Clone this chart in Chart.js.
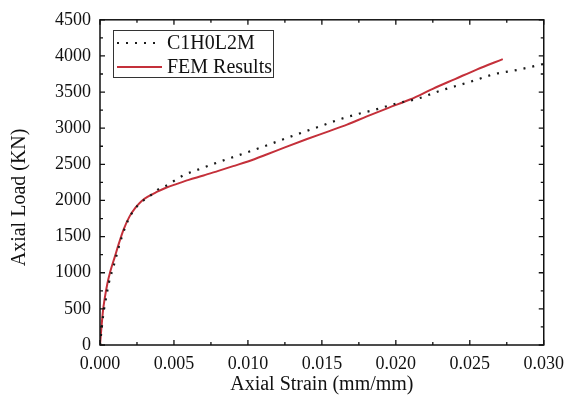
<!DOCTYPE html>
<html>
<head>
<meta charset="utf-8">
<script src="https://cdn.jsdelivr.net/npm/chart.js@4"></script>
<style>
  html, body { margin: 0; padding: 0; background: #fff; }
  #wrap { width: 572px; height: 406px; }
</style>
</head>
<body>
<div id="wrap"><canvas id="c" width="572" height="406"></canvas></div>
<script>
// ---- data ----
const expLabel = 'C1H0L2M';
const expStrain = [0, 0.0001, 0.0002, 0.0004, 0.0006, 0.00095, 0.00128, 0.00146, 0.0019, 0.0023, 0.0028, 0.0034, 0.0039, 0.0046, 0.0052, 0.0057, 0.0064, 0.0070, 0.0080, 0.0090, 0.0100, 0.0113, 0.0125, 0.0137, 0.0150, 0.0162, 0.0175, 0.0185, 0.0200, 0.0215, 0.0230, 0.0250, 0.0267, 0.0283, 0.0300];
const expLoad   = [0, 200, 390, 640, 860, 1114, 1364, 1486, 1727, 1870, 1977, 2068, 2150, 2218, 2296, 2355, 2410, 2455, 2530, 2600, 2670, 2764, 2855, 2943, 3035, 3123, 3200, 3250, 3340, 3410, 3518, 3640, 3750, 3810, 3890];

const femLabel = 'FEM Results';
const femStrain = [0, 0.0001, 0.0002, 0.0003, 0.0005, 0.0007, 0.0010, 0.0013, 0.0016, 0.0020, 0.0024, 0.0028, 0.0033, 0.0038, 0.0045, 0.0052, 0.0060, 0.0070, 0.0080, 0.0090, 0.0100, 0.01126, 0.0125, 0.0140, 0.0155, 0.0167, 0.0180, 0.0195, 0.0210, 0.0225, 0.0240, 0.0255, 0.02723];
const femLoad   = [0, 250, 470, 620, 850, 1020, 1220, 1420, 1600, 1780, 1900, 1990, 2060, 2114, 2180, 2230, 2285, 2345, 2410, 2475, 2540, 2636, 2735, 2850, 2960, 3050, 3160, 3282, 3400, 3545, 3680, 3815, 3955];

const xTitle = 'Axial Strain (mm/mm)';
const yTitle = 'Axial Load (KN)';
const xMin = 0, xMax = 0.030, xStep = 0.005;
const yMin = 0, yMax = 4500, yStep = 500;

const FONT = "'Liberation Serif', 'Times New Roman', serif";

function pts(xs, ys) { return xs.map((x, i) => ({ x: x, y: ys[i] })); }

const frameAndTicks = {
  id: 'frameAndTicks',
  afterDatasetsDraw(chart) {
    const ctx = chart.ctx;
    const a = chart.chartArea;
    const xs = chart.scales.x, ys = chart.scales.y;
    ctx.save();
    ctx.strokeStyle = '#111';
    ctx.lineWidth = 1.5;
    ctx.strokeRect(a.left, a.top, a.right - a.left, a.bottom - a.top);
    ctx.lineWidth = 1.3;
    const majL = 5, minL = 3;
    for (let v = xMin; v <= xMax + 1e-9; v += xStep / 2) {
      const k = Math.round(v / (xStep / 2));
      const L = (k % 2 === 0) ? majL : minL;
      const px = xs.getPixelForValue(v);
      ctx.beginPath();
      ctx.moveTo(px, a.bottom); ctx.lineTo(px, a.bottom - L);
      ctx.moveTo(px, a.top); ctx.lineTo(px, a.top + L);
      ctx.stroke();
    }
    for (let v = yMin; v <= yMax + 1e-9; v += yStep / 2) {
      const k = Math.round(v / (yStep / 2));
      const L = (k % 2 === 0) ? majL : minL;
      const py = ys.getPixelForValue(v);
      ctx.beginPath();
      ctx.moveTo(a.left, py); ctx.lineTo(a.left + L, py);
      ctx.moveTo(a.right, py); ctx.lineTo(a.right - L, py);
      ctx.stroke();
    }
    // legend
    const bx = 113, by = 30, bw = 160, bh = 47;
    ctx.fillStyle = '#fff';
    ctx.fillRect(bx, by, bw, bh);
    ctx.strokeStyle = '#333';
    ctx.lineWidth = 1;
    ctx.strokeRect(bx + 0.5, by + 0.5, bw, bh);
    const rows = [by + 13, by + 37];
    chart.data.datasets.forEach((ds, i) => {
      const y = rows[i];
      ctx.beginPath();
      ctx.strokeStyle = ds.borderColor;
      ctx.lineWidth = ds.borderWidth;
      ctx.setLineDash(ds.borderDash || []);
      ctx.moveTo(117, y); ctx.lineTo(162, y);
      ctx.stroke();
      ctx.setLineDash([]);
      ctx.fillStyle = '#111';
      ctx.font = "20px " + FONT;
      ctx.textBaseline = 'middle';
      ctx.textAlign = 'left';
      ctx.fillText(ds.label, 167, y + 1);
    });
    ctx.restore();
  }
};

new Chart(document.getElementById('c'), {
  type: 'scatter',
  data: {
    datasets: [
      {
        label: expLabel,
        data: pts(expStrain, expLoad),
        showLine: true,
        borderColor: '#1a1a1a',
        backgroundColor: '#1a1a1a',
        borderWidth: 2.2,
        borderDash: [2, 7],
        pointRadius: 0,
        cubicInterpolationMode: 'monotone'
      },
      {
        label: femLabel,
        data: pts(femStrain, femLoad),
        showLine: true,
        borderColor: '#c4303a',
        backgroundColor: '#c4303a',
        borderWidth: 2,
        pointRadius: 0,
        cubicInterpolationMode: 'monotone'
      }
    ]
  },
  options: {
    responsive: false,
    animation: false,
    events: [],
    layout: { padding: { left: 0, right: 28, top: 15, bottom: 0 } },
    plugins: { legend: { display: false }, tooltip: { enabled: false } },
    scales: {
      x: {
        type: 'linear',
        min: xMin, max: xMax,
        grid: { display: false, drawTicks: false },
        border: { display: false },
        ticks: {
          stepSize: xStep,
          padding: 8,
          color: '#111',
          font: { family: FONT, size: 18 },
          callback: v => Number(v).toFixed(3)
        },
        title: {
          display: true, text: xTitle, color: '#111',
          font: { family: FONT, size: 20 },
          padding: { top: 0, bottom: 9 }
        },
        afterFit: s => { s.height = 61; }
      },
      y: {
        type: 'linear',
        min: yMin, max: yMax,
        grid: { display: false, drawTicks: false },
        border: { display: false },
        ticks: {
          stepSize: yStep,
          padding: 9,
          color: '#111',
          font: { family: FONT, size: 18 },
          callback: v => String(v)
        },
        title: {
          display: true, text: yTitle + '      ', color: '#111',
          font: { family: FONT, size: 20 },
          padding: { top: 8, bottom: 0 }
        },
        afterFit: s => { s.width = 100; }
      }
    }
  },
  plugins: [frameAndTicks]
});
</script>
</body>
</html>
